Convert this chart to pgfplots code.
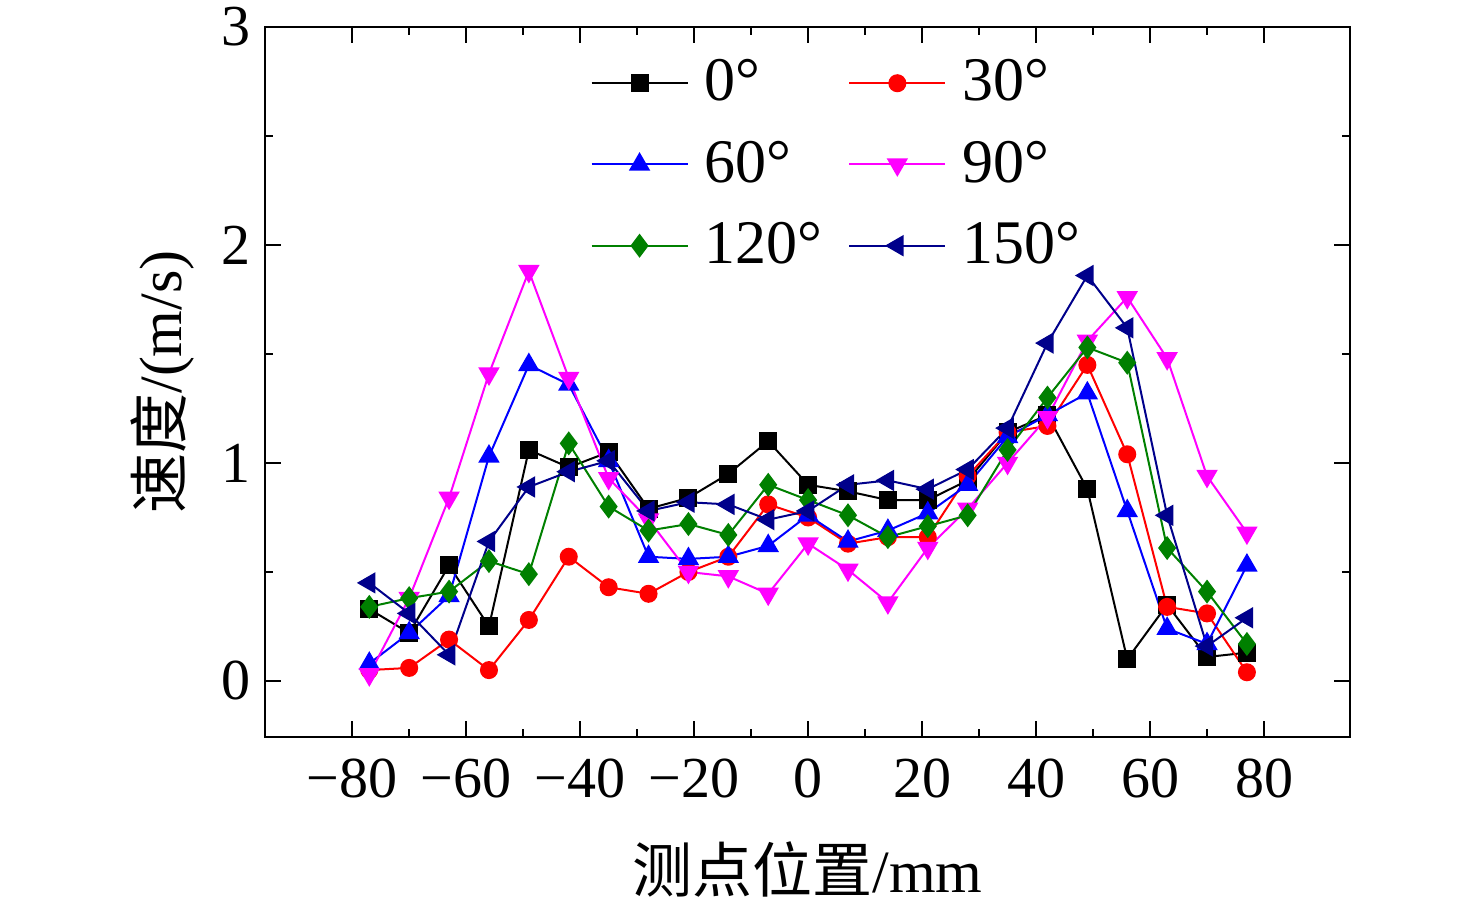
\documentclass[border=0pt]{standalone}
\usepackage{pgfplots}
\pgfplotsset{compat=1.18}
\usepackage{fontspec}
\setmainfont{Liberation Serif}
\newfontfamily\cjk{Noto Sans CJK SC}
\definecolor{dgreen}{RGB}{0,128,0}
\definecolor{navy}{RGB}{0,0,139}
\definecolor{mag}{RGB}{255,0,255}
\begin{document}
\begin{tikzpicture}
\path[use as bounding box] (-66.25pt,-40.75pt) rectangle (302.75pt,184.25pt);
\begin{axis}[at={(0,0)},anchor=south west,scale only axis,width=271.25pt,height=177.5pt,
 xmin=-95.3,xmax=95.1,ymin=-0.257,ymax=3,
 xtick={-80,-60,...,80},ytick={0,1,2,3},
 xticklabels={−80,−60,−40,−20,0,20,40,60,80},
 minor x tick num=1, minor y tick num=1,
 tick align=inside, major tick length=4pt, minor tick length=2pt,
 tick style={black,line width=0.5pt},
 axis line style={line width=0.7pt},
 /pgf/number format/assume math mode=true,
 ticklabel style={font=\fontsize{14.5}{16}\selectfont},
 xticklabel style={yshift=-2pt},
 xlabel={{\cjk 测点位置}/mm}, ylabel={{\cjk 速度}/(m/s)},
 xlabel style={yshift=-4pt},
 label style={font=\fontsize{15}{17}\selectfont},
 every mark/.append style={solid},
 legend columns=2, legend cell align=left,
 legend style={draw=none,fill=none,at={(0.533,0.978)},anchor=north,font=\fontsize{15.5}{17}\selectfont,
   nodes={inner xsep=4pt},
   /tikz/every even column/.append style={column sep=2.5pt}, row sep=4.5pt},
 legend image code/.code={\draw[#1] (0pt,0pt) -- (24pt,0pt); \draw[#1,only marks] plot coordinates {(12pt,0pt)};},
 mark size=2pt, line width=0.5pt,
]
\addplot[black,mark=square*] coordinates {(-77,0.33)(-70,0.22)(-63,0.53)(-56,0.25)(-49,1.06)(-42,0.98)(-35,1.05)(-28,0.79)(-21,0.84)(-14,0.95)(-7,1.10)(0,0.90)(7,0.87)(14,0.83)(21,0.83)(28,0.92)(35,1.14)(42,1.22)(49,0.88)(56,0.10)(63,0.35)(70,0.11)(77,0.13)};
\addlegendentry{0°}
\addplot[red,mark=*] coordinates {(-77,0.05)(-70,0.06)(-63,0.19)(-56,0.05)(-49,0.28)(-42,0.57)(-35,0.43)(-28,0.40)(-21,0.50)(-14,0.57)(-7,0.81)(0,0.75)(7,0.63)(14,0.66)(21,0.66)(28,0.94)(35,1.14)(42,1.17)(49,1.45)(56,1.04)(63,0.34)(70,0.31)(77,0.04)};
\addlegendentry{30°}
\addplot[blue,mark=triangle*,mark size=2.6pt] coordinates {(-77,0.08)(-70,0.22)(-63,0.39)(-56,1.03)(-49,1.45)(-42,1.36)(-35,1.01)(-28,0.57)(-21,0.56)(-14,0.57)(-7,0.62)(0,0.76)(7,0.64)(14,0.69)(21,0.77)(28,0.90)(35,1.12)(42,1.22)(49,1.32)(56,0.78)(63,0.24)(70,0.17)(77,0.53)};
\addlegendentry{60°}
\addplot[mag,mark=triangle*,mark size=2.6pt,mark options={rotate=180}] coordinates {(-77,0.03)(-70,0.38)(-63,0.84)(-56,1.41)(-49,1.88)(-42,1.39)(-35,0.93)(-28,0.74)(-21,0.50)(-14,0.48)(-7,0.40)(0,0.63)(7,0.51)(14,0.36)(21,0.61)(28,0.79)(35,1.00)(42,1.21)(49,1.56)(56,1.76)(63,1.48)(70,0.94)(77,0.68)};
\addlegendentry{90°}
\addplot[dgreen,mark=diamond*,mark size=2.6pt] coordinates {(-77,0.34)(-70,0.38)(-63,0.41)(-56,0.55)(-49,0.49)(-42,1.09)(-35,0.80)(-28,0.69)(-21,0.72)(-14,0.67)(-7,0.90)(0,0.83)(7,0.76)(14,0.66)(21,0.71)(28,0.76)(35,1.06)(42,1.30)(49,1.53)(56,1.46)(63,0.61)(70,0.41)(77,0.17)};
\addlegendentry{120°}
\addplot[navy,mark=triangle*,mark size=2.6pt,mark options={rotate=90}] coordinates {(-77,0.45)(-70,0.31)(-63,0.12)(-56,0.64)(-49,0.89)(-42,0.96)(-35,1.01)(-28,0.78)(-21,0.82)(-14,0.81)(-7,0.74)(0,0.78)(7,0.90)(14,0.92)(21,0.88)(28,0.97)(35,1.16)(42,1.55)(49,1.86)(56,1.62)(63,0.76)(70,0.16)(77,0.29)};
\addlegendentry{150°}
\end{axis}
\end{tikzpicture}
\end{document}
